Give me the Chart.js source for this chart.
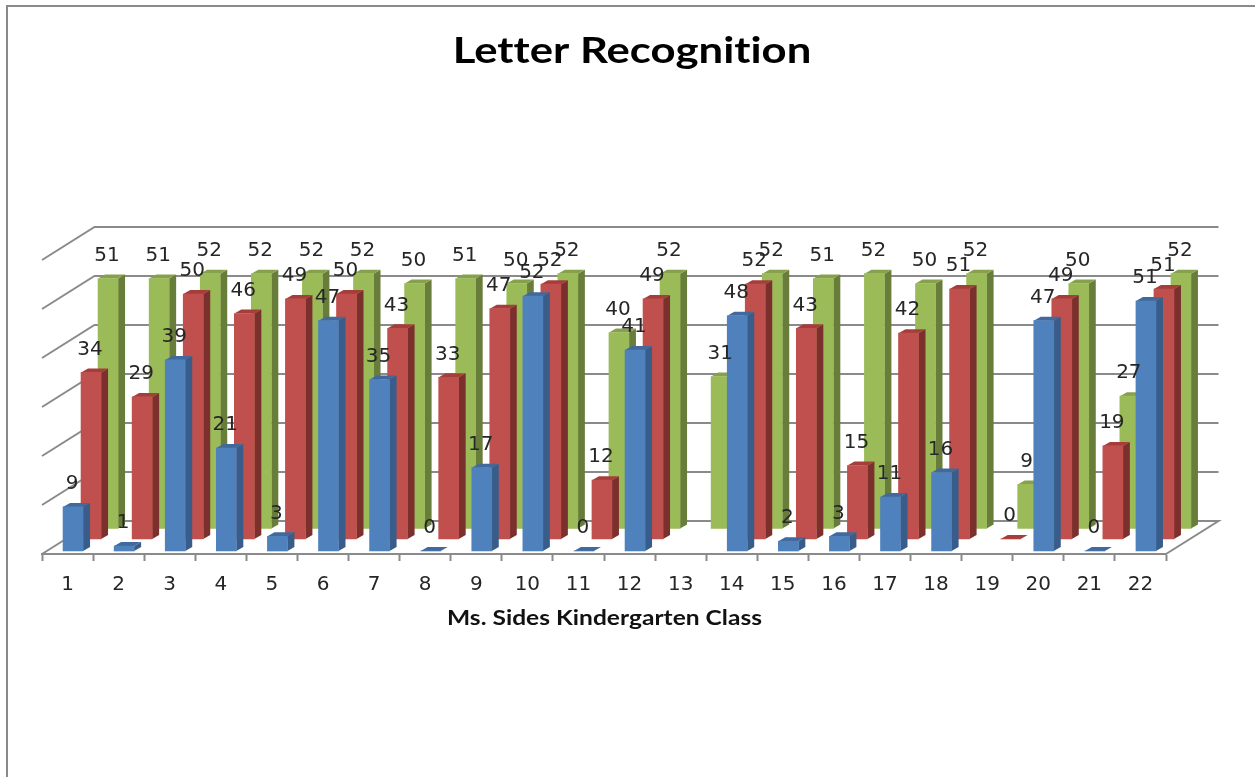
<!DOCTYPE html>
<html>
<head>
<meta charset="utf-8">
<title>Letter Recognition</title>
<script src="https://cdn.jsdelivr.net/npm/chart.js@4/dist/chart.umd.min.js"></script>
<style>
html, body { margin: 0; padding: 0; background: #fff; overflow: hidden; }
canvas { display: block; }
</style>
</head>
<body>
<canvas id="myChart" width="1264" height="777"></canvas>
<script>
// Student numbers and the three test columns
var students = ['1', '2', '3', '4', '5', '6', '7', '8', '9', '10', '11',
                '12', '13', '14', '15', '16', '17', '18', '19', '20', '21', '22'];
var frontRow = [9, 1, 39, 21, 3, 47, 35, 0, 17, 52, 0, 41, null, 48, 2, 3, 11, 16, null, 47, 0, 51];
var middleRow = [34, 29, 50, 46, 49, 50, 43, 33, 47, 52, 12, 49, null, 52, 43, 15, 42, 51, 0, 49, 19, 51];
var backRow = [51, 51, 52, 52, 52, 52, 50, 51, 50, 52, 40, 52, 31, 52, 51, 52, 50, 52, 9, 50, 27, 52];

var labelFont = '"DejaVu Sans", sans-serif';
var gridColor = '#8a8a8a';

// Where each row sits in the fake depth, and how deep a bar is
var rowShift = [[5.5, -3], [23.5, -15], [40.5, -25.5]];
var barDepth = [7, -4];
var wallDepth = [52.5, -33];

var faces = [
    { front: '#4f81bd', side: '#385d8a', top: '#41699c' },
    { front: '#c0504d', side: '#7c302e', top: '#a53e3b' },
    { front: '#9bbb59', side: '#687d3a', top: '#86a14c' }
];

function poly(ctx, pts, color) {
    ctx.fillStyle = color;
    ctx.beginPath();
    ctx.moveTo(pts[0][0], pts[0][1]);
    for (var i = 1; i < pts.length; i++) ctx.lineTo(pts[i][0], pts[i][1]);
    ctx.closePath();
    ctx.fill();
}

// Wraps a draw method so its text comes out wider, centred on toX
function widen(chart, obj, method, fromX, toX, factor) {
    var orig = obj[method];
    obj[method] = function () {
        var ctx = chart.ctx;
        ctx.save();
        ctx.letterSpacing = '0.01px'; // turns off the Lato "ti" ligature
        ctx.translate(toX, 0);
        ctx.scale(factor, 1);
        ctx.translate(-fromX, 0);
        orig.apply(obj, arguments);
        ctx.restore();
    };
}

// The title and axis title are set wide
var widePlugin = {
    id: 'wideTitles',
    afterLayout: function (chart) {
        if (chart.$widened) return;
        chart.$widened = true;
        var area = chart.chartArea;
        var middle = (area.left + area.right) / 2;
        widen(chart, chart.titleBlock, 'draw', middle, 632, 1.18);
        widen(chart, chart.scales.x, 'drawTitle', middle, 604.5, 1.227);
    }
};

// Outer frame, left and top only
var framePlugin = {
    id: 'frame',
    beforeDraw: function (chart) {
        var ctx = chart.ctx;
        ctx.save();
        ctx.strokeStyle = gridColor;
        ctx.lineWidth = 2;
        ctx.beginPath();
        ctx.moveTo(7, 777);
        ctx.lineTo(7, 6);
        ctx.lineTo(1264, 6);
        ctx.stroke();
        ctx.restore();
    }
};

// Back wall, side wall and floor, hung off the value scale
var wallPlugin = {
    id: 'walls',
    beforeDatasetsDraw: function (chart) {
        var ctx = chart.ctx;
        var x = chart.scales.x;
        var y = chart.scales.y;
        var dx = wallDepth[0];
        var dy = wallDepth[1];
        ctx.save();
        ctx.strokeStyle = gridColor;
        ctx.lineWidth = 2;
        y.ticks.forEach(function (t) {
            var py = y.getPixelForValue(t.value);
            ctx.beginPath();
            ctx.moveTo(x.left, py);
            ctx.lineTo(x.left + dx, py + dy);
            ctx.lineTo(x.right + dx, py + dy);
            if (t.value === 0) ctx.lineTo(x.right, py);
            ctx.stroke();
        });
        ctx.restore();
    }
};

// Each row is moved into its depth, side and top faces go behind the native bar
var depthPlugin = {
    id: 'depth',
    beforeDatasetDraw: function (chart, args) {
        var ctx = chart.ctx;
        var shift = rowShift[args.index];
        var face = faces[args.index];
        var dx = barDepth[0];
        var dy = barDepth[1];
        ctx.save();
        ctx.translate(shift[0], shift[1]);
        args.meta.data.forEach(function (bar, i) {
            if (chart.data.datasets[args.index].data[i] === null) return;
            var p = bar.getProps(['x', 'y', 'base', 'width'], true);
            var l = p.x - p.width / 2;
            var r = p.x + p.width / 2;
            poly(ctx, [[r, p.y], [r + dx, p.y + dy], [r + dx, p.base + dy], [r, p.base]], face.side);
            poly(ctx, [[l, p.y], [l + dx, p.y + dy], [r + dx, p.y + dy], [r, p.y]], face.top);
        });
    },
    afterDatasetDraw: function (chart) {
        chart.ctx.restore();
    },
    afterDatasetsDraw: function (chart) {
        var ctx = chart.ctx;
        ctx.save();
        ctx.font = '20px ' + labelFont;
        ctx.fillStyle = '#262626';
        ctx.textAlign = 'center';
        ctx.textBaseline = 'middle';
        chart.data.datasets.forEach(function (ds, d) {
            chart.getDatasetMeta(d).data.forEach(function (bar, i) {
                if (ds.data[i] === null) return;
                var p = bar.getProps(['x', 'y'], true);
                ctx.fillText(ds.data[i], p.x + rowShift[d][0] - 1, p.y + rowShift[d][1] - 23);
            });
        });
        ctx.restore();
    }
};

var data = {
    labels: students,
    datasets: [
        { label: 'Series1', data: frontRow, backgroundColor: faces[0].front },
        { label: 'Series2', data: middleRow, backgroundColor: faces[1].front },
        { label: 'Series3', data: backRow, backgroundColor: faces[2].front }
    ]
};

var config = {
    type: 'bar',
    data: data,
    plugins: [widePlugin, framePlugin, wallPlugin, depthPlugin],
    options: {
        responsive: false,
        animation: false,
        layout: { padding: { left: 42, right: 98, top: 0, bottom: 0 } },
        datasets: { bar: { barThickness: 20, grouped: false, clip: false } },
        plugins: {
            legend: { display: false },
            tooltip: { enabled: false },
            title: {
                display: true,
                text: 'Letter Recognition',
                color: '#000',
                font: { family: 'Lato', size: 37, weight: 'bold', lineHeight: 1.2 },
                padding: { top: 29, bottom: 186.6 }
            }
        },
        scales: {
            x: {
                offset: true,
                grid: { drawOnChartArea: false, tickLength: 7, tickColor: gridColor, tickWidth: 2, offset: true },
                border: { color: gridColor, width: 2 },
                ticks: { color: '#262626', font: { family: labelFont, size: 20 }, padding: 12, maxRotation: 0, autoSkip: false },
                title: {
                    display: true,
                    text: 'Ms. Sides Kindergarten Class',
                    color: '#111',
                    font: { family: 'Lato', size: 20, weight: 'bold', lineHeight: 1.2 },
                    padding: { top: 0, bottom: 146 }
                },
                afterFit: function (scale) { scale.height = 223; }
            },
            y: {
                display: false,
                min: 0,
                max: 60,
                ticks: { stepSize: 10 }
            }
        }
    }
};

var myChart = new Chart(document.getElementById('myChart').getContext('2d'), config);
</script>
</body>
</html>
